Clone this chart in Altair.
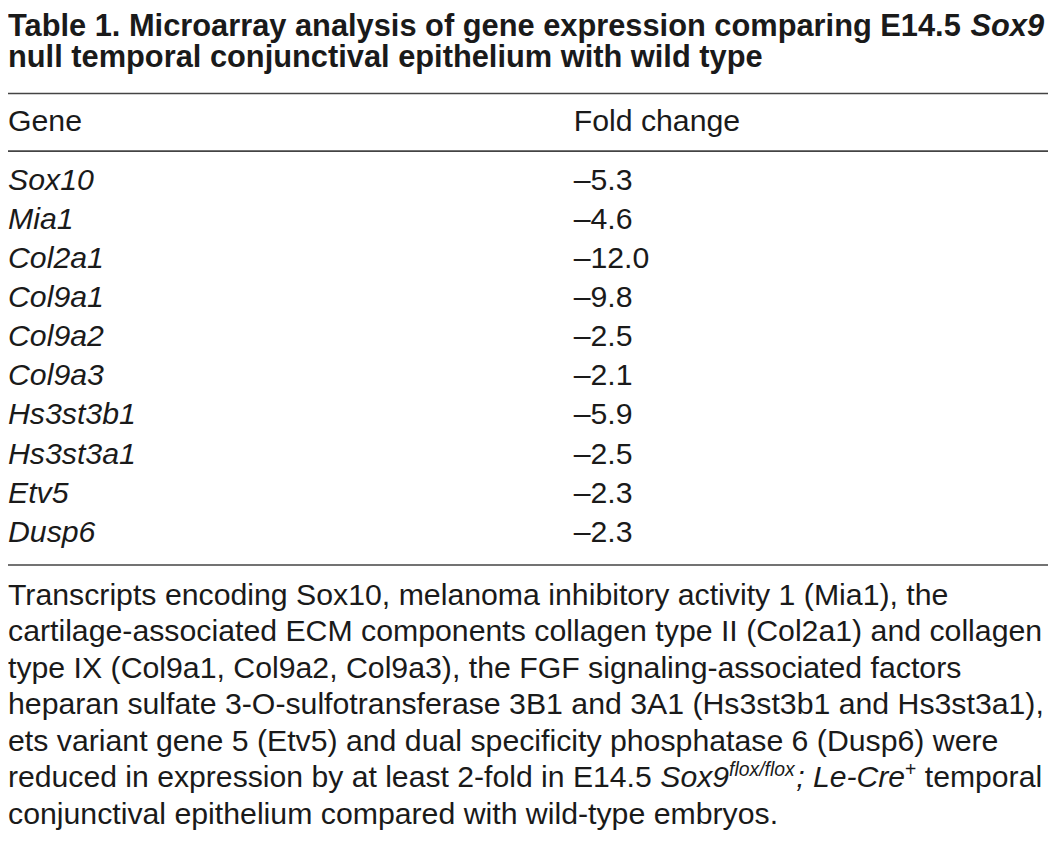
import altair as alt
import pandas as pd

# ---------------- data ----------------
title_prefix = "Table 1. Microarray analysis of gene expression comparing E14.5"
title_italic = "Sox9"
title_line2 = "null temporal conjunctival epithelium with wild type"
headers = ["Gene", "Fold change"]
genes = ["Sox10", "Mia1", "Col2a1", "Col9a1", "Col9a2", "Col9a3",
         "Hs3st3b1", "Hs3st3a1", "Etv5", "Dusp6"]
fold_change = [-5.3, -4.6, -12.0, -9.8, -2.5, -2.1, -5.9, -2.5, -2.3, -2.3]
footnote_plain = [
    (0, "Transcripts encoding Sox10, melanoma inhibitory activity 1 (Mia1), the"),
    (1, "cartilage-associated ECM components collagen type II (Col2a1) and collagen"),
    (2, "type IX (Col9a1, Col9a2, Col9a3), the FGF signaling-associated factors"),
    (3, "heparan sulfate 3-O-sulfotransferase 3B1 and 3A1 (Hs3st3b1 and Hs3st3a1),"),
    (4, "ets variant gene 5 (Etv5) and dual specificity phosphatase 6 (Dusp6) were"),
    (6, "conjunctival epithelium compared with wild-type embryos."),
]
mixed_line = 5
mixed_segments = [
    ("reduced in expression by at least 2-fold in E14.5 ", "regular"),
    ("Sox9", "italic"),
    ("flox/flox", "sup_italic"),
    ("; Le-Cre", "italic"),
    ("+", "sup"),
    (" temporal", "regular"),
]

# ---------------- layout helpers (Arial/Helvetica advance widths) ----------------
REG = {' ': 278, '(': 333, ')': 333, '+': 584, ',': 278, '-': 333, '.': 278, '/': 278,
       ':': 278, ';': 278, '\u2013': 556}
for d in "0123456789":
    REG[d] = 556
REG.update(dict(A=667, B=667, C=722, D=722, E=667, F=611, G=778, H=722, I=278, J=500,
                K=667, L=556, M=833, N=722, O=778, P=667, Q=778, R=722, S=667, T=611,
                U=722, V=667, W=944, X=667, Y=667, Z=611))
REG.update(dict(a=556, b=556, c=500, d=556, e=556, f=278, g=556, h=556, i=222, j=222,
                k=500, l=222, m=833, n=556, o=556, p=556, q=556, r=333, s=500, t=278,
                u=556, v=500, w=722, x=500, y=500, z=500))


def tw(s, size):
    return sum(REG.get(c, 556) for c in s) * size / 1000.0


FONT = "Liberation Sans, Arial, Helvetica, sans-serif"
INK = "#1a1a1a"
W, H = 1048, 839
TITLE_SIZE = 31.05
BODY_SIZE = 30.5
FOOT_SIZE = 30.5
LINE6_SIZE = 30.4
SUP_SIZE = 19.5

# ---------------- title ----------------
title1 = alt.Chart(pd.DataFrame({"t": [title_prefix]})).mark_text(
    align="left", baseline="alphabetic", font=FONT, fontSize=TITLE_SIZE,
    fontWeight="bold", color=INK
).encode(x=alt.value(0), y=alt.value(25), text="t:N")
title1b = alt.Chart(pd.DataFrame({"t": [title_italic]})).mark_text(
    align="right", baseline="alphabetic", font=FONT, fontSize=TITLE_SIZE,
    fontWeight="bold", fontStyle="italic", color=INK
).encode(x=alt.value(1044), y=alt.value(25), text="t:N")
title2 = alt.Chart(pd.DataFrame({"t": [title_line2]})).mark_text(
    align="left", baseline="alphabetic", font=FONT, fontSize=TITLE_SIZE,
    fontWeight="bold", color=INK
).encode(x=alt.value(0), y=alt.value(56), text="t:N")

# ---------------- rules ----------------
def hrule(yv):
    return alt.Chart(pd.DataFrame({"a": [0]})).mark_rule(
        color="#444444", strokeWidth=1.6
    ).encode(x=alt.value(0), x2=alt.value(W), y=alt.value(yv))

rule1 = hrule(83)
rule2 = hrule(141)
rule3 = hrule(558)

# ---------------- header ----------------
hdr_df = pd.DataFrame({"h": headers, "col": [0, 1]})
header = alt.Chart(hdr_df).mark_text(
    align="left", baseline="alphabetic", font=FONT, fontSize=BODY_SIZE, color=INK
).encode(
    x=alt.X("col:Q", scale=alt.Scale(domain=[0, 1], range=[0, 570]), axis=None),
    y=alt.value(121),
    text="h:N",
)

# ---------------- table rows ----------------
tbl = pd.DataFrame({
    "gene": genes,
    "fold": fold_change,
    "row": list(range(len(genes))),
})
tbl["label"] = ["\u2013" + f"{abs(v):.1f}" for v in tbl["fold"]]
yrow = alt.Y("row:Q", scale=alt.Scale(domain=[0, 9], range=[180, 180 + 9 * 39.4]), axis=None)
gene_col = alt.Chart(tbl).mark_text(
    align="left", baseline="alphabetic", font=FONT, fontSize=BODY_SIZE,
    fontStyle="italic", color=INK
).encode(x=alt.value(0), y=yrow, text="gene:N")
fold_col = alt.Chart(tbl).mark_text(
    align="left", baseline="alphabetic", font=FONT, fontSize=BODY_SIZE, color=INK
).encode(x=alt.value(570), y=yrow, text="label:N")

# ---------------- footnote ----------------
yfoot_scale = alt.Scale(domain=[0, 6], range=[598, 598 + 6 * 36.8])
foot_df = pd.DataFrame({"line": [l for l, _ in footnote_plain],
                        "t": [s for _, s in footnote_plain]})
foot = alt.Chart(foot_df).mark_text(
    align="left", baseline="alphabetic", font=FONT, fontSize=FOOT_SIZE, color=INK
).encode(x=alt.value(0), y=alt.Y("line:Q", scale=yfoot_scale, axis=None), text="t:N")

seg_layers = []
xpos = 0.0
for text, style in mixed_segments:
    sup = style.startswith("sup")
    size = SUP_SIZE if sup else LINE6_SIZE
    lead = len(text) - len(text.lstrip(" "))
    xpos_draw = xpos + tw(" " * lead, size)
    kw = dict(align="left", baseline="alphabetic", font=FONT, fontSize=size, color=INK)
    if "italic" in style:
        kw["fontStyle"] = "italic"
    if sup:
        kw["dy"] = -11
    seg_df = pd.DataFrame({"line": [mixed_line], "t": [text.strip()]})
    seg_layers.append(
        alt.Chart(seg_df).mark_text(**kw).encode(
            x=alt.value(xpos_draw),
            y=alt.Y("line:Q", scale=yfoot_scale, axis=None),
            text="t:N",
        )
    )
    xpos += tw(text, size) + (1.5 if style == "sup_italic" else 0)

chart = alt.layer(
    title1, title1b, title2, rule1, rule2, rule3, header, gene_col, fold_col, foot,
    *seg_layers
).resolve_scale(y="independent", x="independent").properties(
    width=W, height=H, padding=0,
    autosize=alt.AutoSizeParams(type="none"),
    background="white",
).configure_view(stroke=None)

chart.save("out.html", embed_options={"renderer": "svg", "actions": False})
